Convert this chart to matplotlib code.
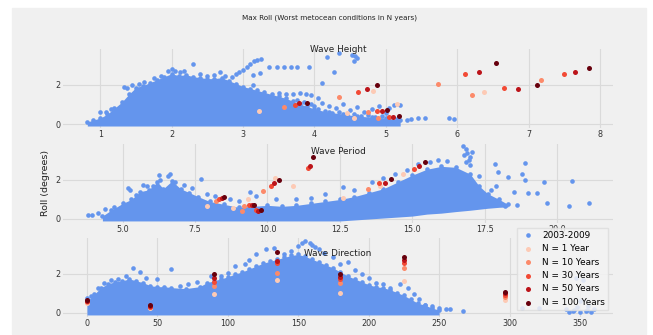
import matplotlib.pyplot as plt
from matplotlib.patches import Rectangle

# legend / colours
n_labels = ['N = 1 Year', 'N = 10 Years', 'N = 30 Years', 'N = 50 Years', 'N = 100 Years']
n_colors = ['#fdcab5', '#fc8a6a', '#f24a35', '#bc141a', '#67000d']
blue = 'cornflowerblue'

# ---- Wave height (Hs) ----
hs_env_x = [0.82, 0.9, 1.0, 1.1, 1.2, 1.3, 1.4, 1.5, 1.6, 1.7, 1.8, 1.9, 2.0, 2.1, 2.2, 2.3,
            2.4, 2.5, 2.6, 2.7, 2.8, 2.9, 3.0, 3.1, 3.2, 3.3, 3.4, 3.5, 3.6, 3.7, 3.8, 3.9,
            4.0, 4.2, 4.4, 4.6, 4.8, 5.0, 5.2]
hs_env_top = [0.1, 0.2, 0.3, 0.5, 0.8, 1.1, 1.5, 1.85, 1.95, 2.1, 2.25, 2.4, 2.55, 2.45, 2.5, 2.4,
              2.35, 2.3, 2.3, 2.35, 2.2, 2.05, 1.9, 1.8, 1.7, 1.6, 1.5, 1.4, 1.3, 1.15, 1.0, 0.9,
              0.75, 0.6, 0.5, 0.4, 0.35, 0.3, 0.2]
hs_pts_x = [1.0, 1.08, 1.15, 1.33, 1.38, 1.45, 1.55, 1.62, 1.75, 1.85, 1.95, 2.0, 2.05, 2.12, 2.18,
            2.3, 2.4, 2.5, 2.6, 2.68, 2.75, 2.85, 2.9, 2.95, 3.0, 3.05, 3.1, 3.15, 3.2, 3.25,
            3.14, 3.24, 3.14, 3.36, 3.48, 3.58, 3.67, 3.76, 3.92, 4.1, 4.27, 4.18, 4.35, 4.53,
            4.57, 4.6, 4.55, 3.5, 3.6, 3.7, 3.8, 3.88, 3.95, 4.05, 4.1, 4.2, 4.3, 4.4, 4.5, 4.6,
            4.7, 4.8, 4.9, 5.0, 5.05, 5.12, 5.2, 4.25, 4.45, 4.65, 4.85, 5.15, 5.3, 5.35, 5.45,
            5.55, 5.88, 5.96, 4.05, 4.15, 4.35, 4.55, 4.75, 4.95, 3.75, 3.85, 3.95, 4.0]
hs_pts_y = [0.62, 0.62, 0.75, 1.9, 1.85, 2.0, 2.05, 2.15, 2.35, 2.45, 2.7, 2.8, 2.7, 2.65, 2.7,
            3.04, 2.55, 2.45, 2.5, 2.65, 2.45, 2.4, 2.55, 2.65, 2.75, 2.9, 3.05, 3.2, 3.25, 3.3,
            2.5, 2.6, 2.0, 2.87, 2.87, 2.87, 2.87, 2.87, 2.9, 2.06, 2.65, 3.4, 3.6, 3.5,
            3.45, 3.35, 3.2, 1.55, 1.5, 1.5, 1.55, 1.5, 1.45, 1.3, 1.05, 0.9, 0.8, 1.0, 0.7, 0.85,
            0.6, 0.75, 0.9, 0.55, 0.8, 0.95, 0.95, 0.55, 0.45, 0.4, 0.35, 0.25, 0.2, 0.28, 0.32,
            0.3, 0.32, 0.27, 0.75, 0.65, 0.6, 0.5, 0.45, 0.4, 1.2, 1.1, 1.0, 0.9]
hs_n_x = [[3.22, 4.45, 4.56, 4.82, 5.16, 6.37],
          [3.58, 4.35, 4.75, 4.89, 5.73, 6.2, 7.17],
          [3.73, 4.61, 4.88, 5.04, 6.11, 6.65, 7.5],
          [3.79, 4.73, 4.95, 5.1, 6.31, 6.85, 7.65],
          [3.89, 4.88, 5.02, 5.18, 6.54, 7.11, 7.85]]
hs_n_y = [[0.66, 0.57, 0.32, 1.67, 1.0, 1.64],
          [0.88, 1.38, 0.62, 0.32, 2.01, 1.47, 2.24],
          [0.96, 1.64, 0.66, 0.37, 2.52, 1.81, 2.53],
          [1.05, 1.77, 0.68, 0.37, 2.62, 1.77, 2.65],
          [1.08, 1.97, 0.71, 0.4, 3.07, 1.99, 2.82]]

# ---- Wave period (Tp) ----
tp_env_x = [4.3, 4.6, 5.0, 5.3, 5.6, 5.9, 6.2, 6.4, 6.7, 7.0, 7.3, 7.6, 8.0, 8.5, 9.0, 9.5, 10.0,
            10.5, 11.0, 11.5, 12.0, 12.5, 13.0, 13.5, 14.0, 14.5, 15.0, 15.5, 16.0, 16.5, 17.0,
            17.3, 17.6, 18.0, 18.3]
tp_env_top = [0.15, 0.45, 0.8, 1.0, 1.4, 1.5, 1.9, 1.55, 1.95, 1.55, 1.35, 1.15, 0.9, 0.75, 0.6, 0.65,
              0.7, 0.65, 0.7, 0.8, 0.9, 1.0, 1.15, 1.35, 1.55, 1.9, 2.25, 2.55, 2.7, 2.65, 2.3,
              1.7, 1.3, 1.0, 0.75]
tp_env_bot = [-0.1, -0.1, -0.1, -0.1, -0.1, -0.1, -0.1, -0.1, -0.1, -0.1, -0.1, -0.1, -0.1, -0.1,
              -0.1, -0.1, -0.1, -0.1, -0.1, -0.1, -0.1, -0.1, -0.05, 0.0, 0.05, 0.1, 0.15, 0.25,
              0.3, 0.38, 0.45, 0.5, 0.55, 0.6, 0.62]
tp_pts_x = [3.8, 3.95, 4.15, 4.4, 4.7, 5.2, 5.25, 5.45, 5.7, 5.85, 6.05, 6.25, 6.3, 6.55, 6.65, 6.8,
            7.1, 7.4, 7.7, 7.9, 8.2, 8.7, 9.0, 9.4, 9.6, 10.3, 11.0, 11.5, 12.0, 12.6, 13.0, 13.6,
            14.0, 14.4, 14.8, 15.2, 15.6, 15.9, 16.2, 16.75, 16.85, 16.9, 17.0, 16.95, 16.8,
            17.05, 16.85, 17.0, 17.3, 16.8, 16.95, 17.6, 17.7, 17.87, 17.9, 17.95, 18.2, 18.3,
            18.52, 18.6, 18.8, 18.88, 18.9, 18.98, 19.3, 19.53, 19.66, 20.41, 20.52, 21.11]
tp_pts_y = [0.22, 0.22, 0.3, 0.5, 0.6, 1.6, 1.5, 1.25, 1.75, 1.7, 1.7, 2.25, 2.0, 2.2, 2.3, 1.9,
            1.75, 1.6, 2.05, 1.3, 1.2, 1.0, 0.9, 1.4, 1.2, 1.0, 1.05, 1.1, 1.3, 1.65, 1.5, 1.9,
            2.1, 2.3, 2.5, 2.8, 2.9, 3.0, 2.95, 3.75, 3.6, 3.4, 3.2, 3.0, 3.3,
            3.45, 2.9, 2.75, 2.2, 2.0, 1.7, 1.0, 1.49, 2.8, 1.71, 2.43, 0.67, 2.17,
            1.4, 0.72, 2.29, 2.89, 2.0, 1.32, 1.32, 1.88, 0.84, 0.67, 1.96, 0.8]
tp_n_x = [[7.92, 8.8, 9.34, 10.26, 10.87, 12.6, 13.89, 14.67],
          [8.22, 9.13, 9.19, 9.86, 13.48],
          [8.34, 9.37, 9.6, 10.11, 11.41, 13.86, 15.07],
          [8.42, 9.45, 9.68, 10.24, 11.47, 14.06, 15.23],
          [8.5, 9.54, 9.77, 10.4, 11.58, 14.27, 15.45]]
tp_n_y = [[0.67, 0.58, 1.01, 2.09, 1.69, 1.06, 1.69, 2.31],
          [0.92, 0.41, 0.67, 1.44, 1.52],
          [1.04, 0.7, 0.46, 1.69, 2.6, 1.86, 2.56],
          [1.09, 0.72, 0.43, 1.83, 2.72, 1.86, 2.73],
          [1.14, 0.73, 0.44, 2.0, 3.16, 2.05, 2.9]]

# ---- Wave direction ----
wd_env_x = [0, 5, 10, 15, 20, 25, 30, 35, 40, 45, 50, 55, 60, 70, 80, 85, 90, 95, 100, 105, 110,
            115, 120, 125, 130, 135, 140, 145, 150, 155, 160, 165, 170, 175, 180, 185, 190, 195,
            200, 205, 210, 215, 220, 225, 230, 235, 240, 245, 250]
wd_env_top = [0.6, 0.95, 1.3, 1.5, 1.6, 1.65, 1.75, 1.65, 1.55, 1.4, 1.35, 1.35, 1.3, 1.25, 1.35,
              1.55, 1.65, 1.75, 1.85, 2.0, 2.1, 2.25, 2.4, 2.55, 2.65, 2.75, 2.85, 2.95, 3.0, 2.9,
              2.75, 2.6, 2.45, 2.3, 2.1, 1.9, 1.75, 1.6, 1.45, 1.35, 1.3, 1.2, 1.05, 0.9, 0.7,
              0.5, 0.4, 0.25, 0.15]
wd_pts_x = [0, 3, 8, 12, 17, 22, 28, 33, 38, 42, 50, 60, 66, 72, 78, 88, 95, 100, 105, 112, 115,
            120, 127, 133, 140, 145, 150, 153, 155, 158, 160, 162, 165, 168, 175, 180, 185, 190,
            195, 200, 205, 210, 215, 222, 228, 232, 236, 240, 245, 250, 255, 258, 267, 309, 321,
            340, 342, 345, 346, 348, 350, 350, 352, 354, 355, 356, 358, 360, 347]
wd_pts_y = [0.75, 0.85, 1.3, 1.55, 1.7, 1.75, 1.9, 2.3, 2.1, 1.8, 1.75, 2.25, 1.4, 1.5, 1.6, 1.9,
            1.9, 2.05, 2.4, 2.5, 2.7, 3.0, 3.3, 3.35, 3.0, 3.2, 3.45, 3.6, 3.7, 3.6, 3.5, 3.4,
            3.3, 3.1, 2.85, 2.5, 2.6, 2.2, 2.0, 1.8, 1.55, 1.5, 1.3, 1.5, 1.3, 0.95, 0.7, 0.4,
            0.35, 0.25, 0.2, 0.18, 0.12, 0.24, 0.24, 0.2, 0.05, 0.1, 0.15, 0.3, 0.05, 0.6, 1.7,
            0.1, 0.15, 0.35, 0.05, 0.2, 1.8]
wd_dirs = [0, 45, 90, 135, 180, 225, 297]
wd_n_y = [[0.52, 0.27, 0.97, 1.69, 1.04, 1.66, 0.67],
          [0.57, 0.3, 1.38, 2.07, 1.52, 2.33, 0.84],
          [0.6, 0.33, 1.6, 2.55, 1.75, 2.58, 0.91],
          [0.63, 0.36, 1.8, 2.68, 1.86, 2.72, 1.0],
          [0.68, 0.4, 2.0, 3.11, 2.0, 2.89, 1.09]]

fig = plt.figure(figsize=(6.53, 3.35), dpi=100)
fig.patch.set_facecolor('white')
fig.add_artist(Rectangle((0.0184, 0.003), 0.971, 0.973, transform=fig.transFigure,
                         color='#f0f0f0', zorder=-10))

left, width, height = 0.0965, 0.8423, 0.2346
ax1 = fig.add_axes([left, 0.6191, width, height])
ax2 = fig.add_axes([left, 0.3358, width, height])
ax3 = fig.add_axes([left, 0.0552, width, height])

panels = [
    (ax1, hs_env_x, hs_env_top, [-0.1] * len(hs_env_x), hs_pts_x, hs_pts_y, hs_n_x, hs_n_y,
     'Wave Height', 0.99, (0.48, 8.18), (-0.18, 3.8)),
    (ax2, tp_env_x, tp_env_top, tp_env_bot, tp_pts_x, tp_pts_y, tp_n_x, tp_n_y,
     'Wave Period', 0.905, (2.94, 21.93), (-0.18, 3.85)),
    (ax3, wd_env_x, wd_env_top, [-0.1] * len(wd_env_x), wd_pts_x, wd_pts_y,
     [wd_dirs] * 5, wd_n_y, 'Wave Direction', 0.80, (-17, 373.5), (-0.18, 3.85)),
]

for ax, ex, etop, ebot, px, py, nx, ny, title, ty, xl, yl in panels:
    ax.set_facecolor('#f0f0f0')
    for s in ax.spines.values():
        s.set_visible(False)
    ax.grid(True, color='#dadada', linewidth=0.8)
    ax.set_axisbelow(True)
    ax.fill_between(ex, ebot, etop, color=blue, linewidth=0, zorder=2)
    ax.scatter(ex, etop, s=11, color=blue, linewidths=0, zorder=2)
    h_blue = ax.scatter(px, py, s=11, color=blue, linewidths=0, zorder=2, label='2003-2009')
    h_n = []
    for i in range(5):
        h_n.append(ax.scatter(nx[i], ny[i], s=13, color=n_colors[i], linewidths=0, zorder=3,
                              label=n_labels[i]))
    ax.set_xlim(*xl)
    ax.set_ylim(*yl)
    ax.set_yticks([0, 2])
    ax.tick_params(length=0, pad=2, labelsize=5.8, colors='#333333')
    ax.text(0.5, ty, title, transform=ax.transAxes, ha='center', va='center',
            fontsize=6.4, color='#222222', zorder=5)

ax1.set_xticks(range(1, 9))
ax2.set_xticks([5, 7.5, 10, 12.5, 15, 17.5, 20])
ax2.set_xticklabels(['5.0', '7.5', '10.0', '12.5', '15.0', '17.5', '20.0'])
ax3.set_xticks(range(0, 351, 50))

fig.text(0.504, 0.946, 'Max Roll (Worst metocean conditions in N years)', ha='center',
         va='center', fontsize=5.2, color='#222222')
fig.text(0.070, 0.454, 'Roll (degrees)', rotation=90, ha='center', va='center',
         fontsize=6.8, color='#222222')

fig.legend([h_blue] + h_n, ['2003-2009'] + n_labels, loc='upper right',
           bbox_to_anchor=(0.931, 0.3194), borderaxespad=0, fontsize=6.4,
           facecolor='#f3f3f3', edgecolor='#dddddd', framealpha=0.85,
           handletextpad=0.6, labelspacing=0.5, borderpad=0.3, fancybox=False)

fig.savefig('out.png', dpi=100)
